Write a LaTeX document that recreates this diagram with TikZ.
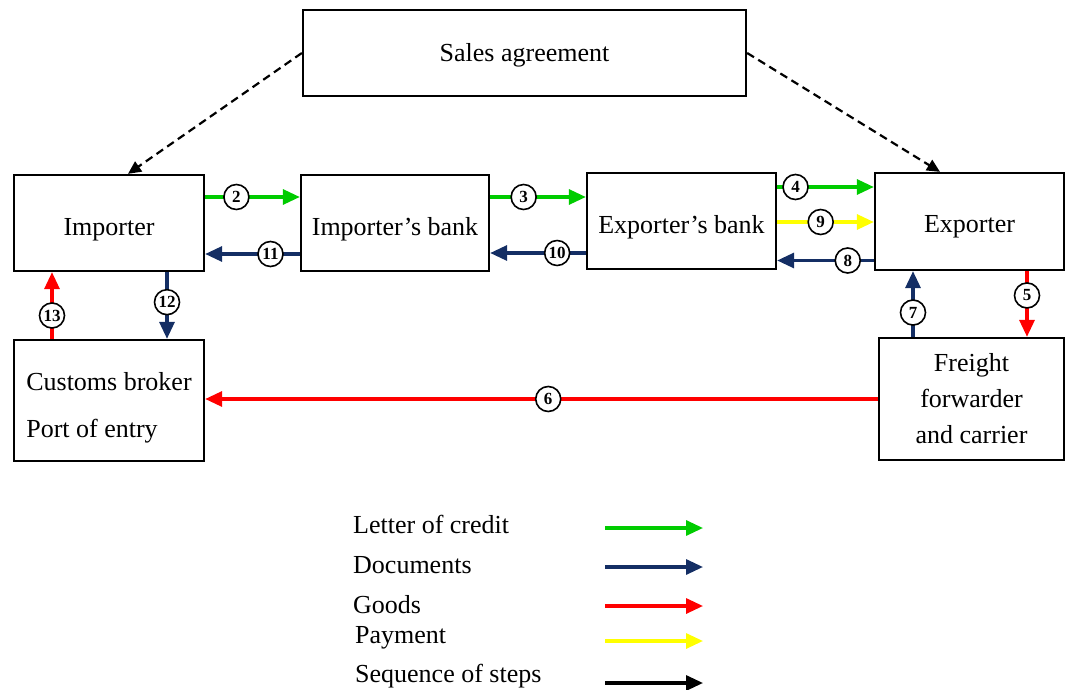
\documentclass[tikz,border=0pt]{standalone}
\usepackage{fontspec}
\setmainfont{Liberation Serif}
\usetikzlibrary{arrows.meta}
\definecolor{lcgreen}{RGB}{0,204,0}
\definecolor{docblue}{RGB}{20,46,100}
\definecolor{payyellow}{RGB}{255,255,0}
\definecolor{goodsred}{RGB}{255,0,0}
\begin{document}
\begin{tikzpicture}[x=1pt,y=-1pt,
    box/.style={draw,line width=2.3pt,inner sep=0pt,minimum width=190pt,minimum height=96pt,font=\fontsize{26}{30}\selectfont},
    onebox/.style={box,text height=24pt,text depth=0pt},
    num/.style={draw=black,text=black,circle,fill=white,line width=1.6pt,inner sep=0pt,minimum size=25pt,font=\bfseries\fontsize{17}{17}\selectfont},
    flow/.style={line width=3.2pt,-{Triangle[length=17pt,width=15pt]}},
    lc/.style={flow,color=lcgreen},
    doc/.style={flow,color=docblue},
    goods/.style={flow,color=goodsred},
    pay/.style={flow,color=payyellow},
    seq/.style={flow,color=black},
    deal/.style={black,line width=2.2pt,dash pattern=on 8pt off 5pt,-{Triangle[length=13pt,width=12pt]}},
    keytext/.style={anchor=west,inner sep=0pt,font=\fontsize{26}{30}\selectfont}]
  \useasboundingbox (0,0) rectangle (1065,690);
  % parties
  \node[box,minimum width=443pt,minimum height=86pt,text height=20pt,text depth=2pt] (sales) at (524.5,53) {Sales agreement};
  \node[onebox] (imp) at (109,223) {Importer};
  \node[onebox,minimum width=188pt] (ibank) at (395,223) {Importer’s bank};
  \node[onebox,minimum width=189pt] (ebank) at (681.5,221) {Exporter’s bank};
  \node[onebox,minimum width=189pt,minimum height=97pt,text height=22pt] (exp) at (969.5,221.5) {Exporter};
  \node[box,minimum height=121pt,align=left] (cus) at (109,400.5) {\rule{0pt}{32pt}Customs broker\\[17pt]Port of entry};
  \node[box,minimum width=185pt,minimum height=122pt,align=center] (frt) at (971.5,399) {Freight\\[6pt]forwarder\\[6pt]and carrier};
  % agreement
  \draw[deal] (sales.west) -- ([xshift=19]imp.north);
  \draw[deal] (sales.east) -- ([xshift=-29.5]exp.north);
  % steps
  \draw[lc] ([yshift=26]imp.east) -- node[num,pos=.33]{2} ([yshift=26]imp.east -| ibank.west);
  \draw[lc] ([yshift=26]ibank.east) -- node[num,pos=.35]{3} ([yshift=26]ibank.east -| ebank.west);
  \draw[lc] ([yshift=34]ebank.east) -- node[num,pos=.19]{4} ([yshift=34]ebank.east -| exp.west);
  \draw[goods] ([xshift=57.5]exp.south) -- node[num,pos=.37]{5} ([xshift=57.5]exp.south |- frt.north);
  \draw[goods] (frt.west) -- node[num,pos=.49]{6} (frt.west -| cus.east);
  \draw[doc] ([xshift=-58.5]frt.north) -- node[num,pos=.37]{7} ([xshift=-58.5]frt.north |- exp.south);
  \draw[doc] ([yshift=-39]exp.west) -- node[num,pos=.27]{8} ([yshift=-39]exp.west -| ebank.east);
  \draw[pay] ([yshift=-1]ebank.east) -- node[num,pos=.45]{9} ([yshift=-1]ebank.east -| exp.west);
  \draw[doc] ([yshift=-32]ebank.west) -- node[num,pos=.3]{10} ([yshift=-32]ebank.west -| ibank.east);
  \draw[doc] ([yshift=-31]ibank.west) -- node[num,pos=.31]{11} ([yshift=-31]ibank.west -| imp.east);
  \draw[doc] ([xshift=58]imp.south) -- node[num,pos=.45]{12} ([xshift=58]imp.south |- cus.north);
  \draw[goods] ([xshift=-57]cus.north) -- node[num,pos=.35]{13} ([xshift=-57]cus.north |- imp.south);
  % legend
  \node[keytext] (k1) at (353,524) {Letter of credit};
  \node[keytext] (k2) at (353,565) {Documents};
  \node[keytext] (k3) at (353,605) {Goods};
  \node[keytext] (k4) at (355,638) {Payment};
  \node[keytext] (k5) at (355,676) {Sequence of steps};
  \coordinate (k1a) at (605,528);
  \coordinate (k1b) at (703,528);
  \coordinate (k2a) at (605,567);
  \coordinate (k2b) at (703,567);
  \coordinate (k3a) at (605,606);
  \coordinate (k3b) at (703,606);
  \coordinate (k4a) at (605,641);
  \coordinate (k4b) at (703,641);
  \coordinate (k5a) at (605,683);
  \coordinate (k5b) at (703,683);
  \draw[lc] (k1a) -- (k1b);
  \draw[doc] (k2a) -- (k2b);
  \draw[goods] (k3a) -- (k3b);
  \draw[pay] (k4a) -- (k4b);
  \draw[seq] (k5a) -- (k5b);
\end{tikzpicture}
\end{document}
